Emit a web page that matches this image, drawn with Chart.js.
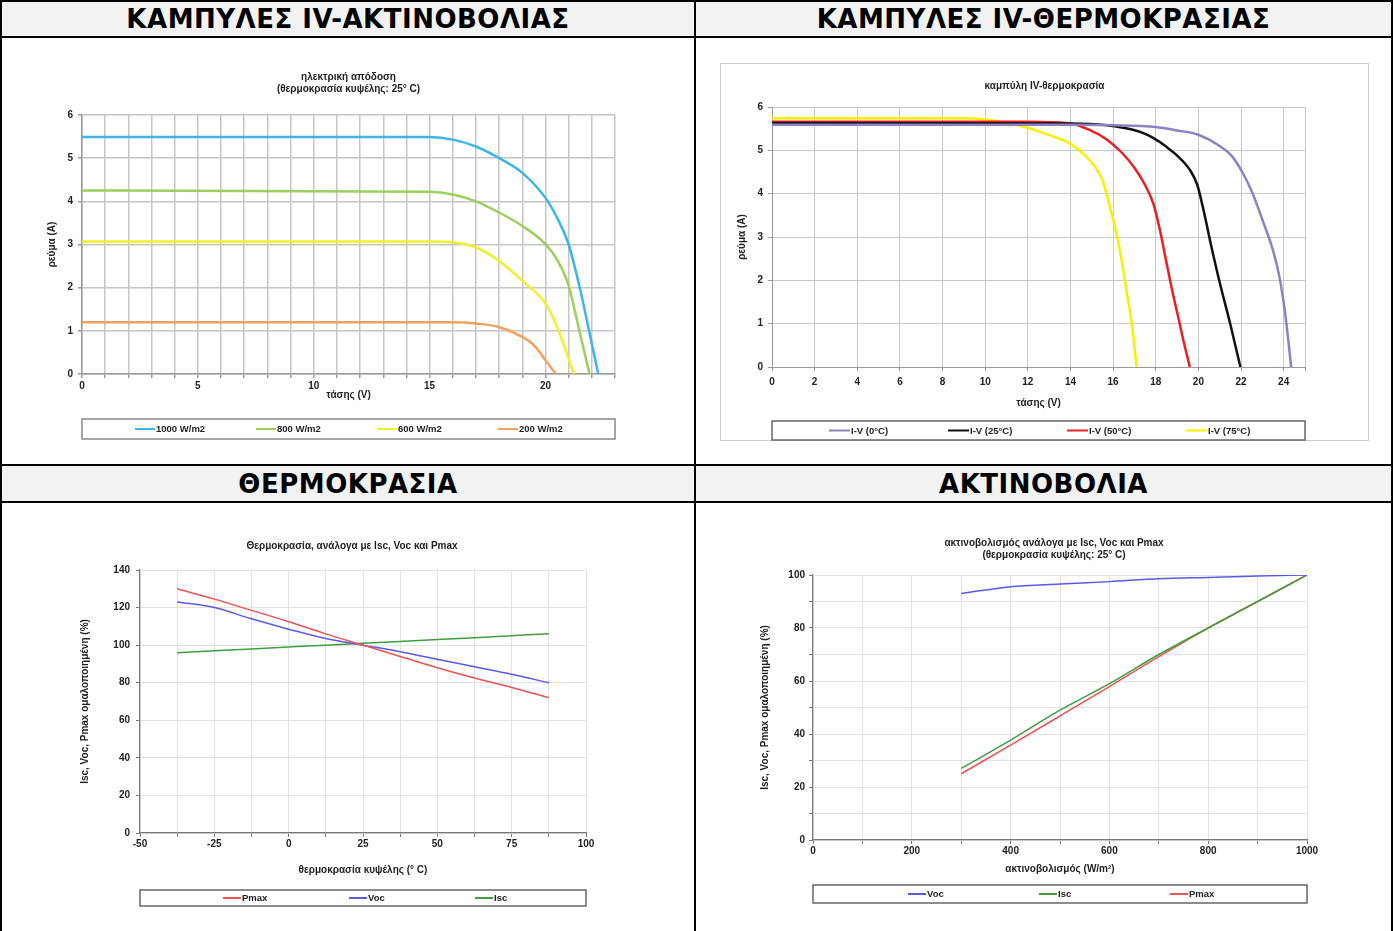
<!DOCTYPE html>
<html>
<head>
<meta charset="utf-8">
<script src="https://cdn.jsdelivr.net/npm/chart.js@4.4.1/dist/chart.umd.min.js"></script>
<style>
  html, body { margin: 0; padding: 0; background: #fff; width: 1393px; height: 931px; overflow: hidden; }
  .ln { position: absolute; background: #000; }
  .head { position: absolute; background: #f2f2f2; color: #000; text-align: center; letter-spacing: 0.5px;
          font: bold 26px "DejaVu Sans", Verdana, sans-serif; }
  .cell { position: absolute; }
  canvas { display: block; }
</style>
</head>
<body>

<!-- table grid -->
<div class="ln" style="left:0;top:0;width:1393px;height:2px"></div>
<div class="ln" style="left:0;top:36px;width:1393px;height:2px"></div>
<div class="ln" style="left:0;top:464px;width:1393px;height:2px"></div>
<div class="ln" style="left:0;top:501px;width:1393px;height:2px"></div>
<div class="ln" style="left:0;top:0;width:2px;height:931px"></div>
<div class="ln" style="left:694px;top:0;width:2px;height:931px"></div>
<div class="ln" style="left:1391px;top:0;width:2px;height:931px"></div>

<div class="head" style="left:2px;top:2px;width:692px;height:34px;line-height:35px">ΚΑΜΠΥΛΕΣ IV-ΑΚΤΙΝΟΒΟΛΙΑΣ</div>
<div class="head" style="left:696px;top:2px;width:695px;height:34px;line-height:35px">ΚΑΜΠΥΛΕΣ IV-ΘΕΡΜΟΚΡΑΣΙΑΣ</div>
<div class="head" style="left:2px;top:466px;width:692px;height:35px;line-height:36px">ΘΕΡΜΟΚΡΑΣΙΑ</div>
<div class="head" style="left:696px;top:466px;width:695px;height:35px;line-height:36px">ΑΚΤΙΝΟΒΟΛΙΑ</div>

<div class="cell" style="left:2px;top:38px"><canvas id="irr" width="692" height="426"></canvas></div>
<div class="cell" style="left:696px;top:38px"><canvas id="temp" width="695" height="426"></canvas></div>
<div class="cell" style="left:2px;top:503px"><canvas id="tnorm" width="692" height="428"></canvas></div>
<div class="cell" style="left:696px;top:503px"><canvas id="gnorm" width="695" height="428"></canvas></div>

<script>
// ---------- data: IV curves vs irradiance (cell temp 25 C) ----------
const v1000 = [0, 15, 16, 17, 18, 19, 20, 20.5, 21, 21.5, 21.9, 22.28];
const i1000 = [5.49, 5.49, 5.43, 5.27, 5.0, 4.66, 4.08, 3.62, 3.0, 1.95, 0.95, 0];
const v800 = [0, 15, 16, 17, 18, 19, 20, 20.5, 21, 21.4, 21.9];
const i800 = [4.25, 4.22, 4.16, 4.0, 3.74, 3.43, 3.01, 2.65, 2.05, 1.15, 0];
const v600 = [0, 15, 16, 17, 18, 19, 20, 20.5, 20.87, 21.23];
const i600 = [3.07, 3.07, 3.05, 2.93, 2.62, 2.16, 1.63, 1.09, 0.55, 0];
const v200 = [0, 15, 16, 17, 18, 19, 19.5, 20, 20.45];
const i200 = [1.2, 1.2, 1.2, 1.17, 1.09, 0.86, 0.67, 0.32, 0];

// ---------- data: IV curves vs temperature ----------
const v0C = [0, 14, 16, 18, 19, 20, 21, 21.6, 22.1, 22.55, 23, 23.5, 23.8, 24.05, 24.2, 24.35];
const i0C = [5.59, 5.59, 5.58, 5.54, 5.46, 5.36, 5.1, 4.85, 4.46, 4.0, 3.4, 2.69, 2.08, 1.31, 0.69, 0];
const v25C = [0, 14, 15.7, 16.6, 17.3, 17.9, 18.5, 19, 19.6, 19.95, 20.25, 20.6, 21, 21.5, 21.97];
const i25C = [5.63, 5.62, 5.58, 5.51, 5.42, 5.28, 5.08, 4.88, 4.55, 4.2, 3.6, 2.8, 1.95, 0.98, 0];
const v50C = [0, 12, 14, 14.9, 15.7, 16.4, 17.0, 17.5, 17.9, 18.2, 18.5, 18.8, 19.1, 19.35, 19.6];
const i50C = [5.66, 5.66, 5.62, 5.47, 5.25, 4.95, 4.6, 4.2, 3.75, 3.15, 2.42, 1.7, 1.05, 0.5, 0];
const v75C = [0, 9, 10, 11, 12, 12.6, 13.3, 14, 14.9, 15.5, 15.9, 16.1, 16.4, 16.65, 16.9, 17.1];
const i75C = [5.74, 5.74, 5.71, 5.63, 5.52, 5.42, 5.3, 5.15, 4.77, 4.31, 3.6, 3.2, 2.46, 1.69, 0.92, 0];

// ---------- data: normalised values vs cell temperature ----------
const cellTemp = [-37.5, -25, -12.5, 0, 12.5, 25, 37.5, 50, 62.5, 75, 87.5];
const pmaxT = [130, 124.5, 118.5, 112.5, 106, 100, 94, 88, 82.5, 77.5, 72];
const vocT = [123, 120, 114, 108.5, 103.5, 100, 96.5, 92.5, 88.5, 84.5, 80];
const iscT = [96, 97, 98, 99, 100, 101, 102, 103, 104, 105, 106];

// ---------- data: normalised values vs irradiance ----------
const irrad = [300, 400, 500, 600, 700, 800, 900, 1000];
const vocG = [93, 95.6, 96.6, 97.5, 98.6, 99.1, 99.6, 100];
const iscG = [27, 37.7, 49, 59, 70, 80, 90, 100];
const pmaxG = [25, 35.8, 46.8, 57.9, 69.2, 80, 90, 100];

const FONT = '"Liberation Sans", Arial, sans-serif';
Chart.defaults.font.family = FONT;
Chart.defaults.font.size = 10;
Chart.defaults.font.weight = 'bold';
Chart.defaults.color = '#222';

const pts = (xs, ys) => xs.map((x, i) => ({ x: x, y: ys[i] }));

function series(label, xs, ys, color, width) {
  return {
    label: label, data: pts(xs, ys), showLine: true, fill: false,
    borderColor: color, backgroundColor: color, borderWidth: width,
    pointRadius: 0, pointHoverRadius: 0, cubicInterpolationMode: 'monotone'
  };
}

// chart title, centred on the plot (with a small shift where the original is off-centre)
const caption = {
  id: 'caption',
  afterDraw(chart, args, o) {
    const { ctx, chartArea: a } = chart;
    ctx.save();
    ctx.font = 'bold 10px ' + FONT;
    ctx.fillStyle = '#222';
    ctx.textAlign = 'center';
    ctx.textBaseline = 'middle';
    const cx = (a.left + a.right) / 2 + o.dx;
    o.lines.forEach((t, i) => ctx.fillText(t, cx, o.y + i * 12));
    ctx.restore();
  }
};

// boxed legend under the plot, items on a fixed pitch (Excel style)
const legendBox = {
  id: 'legendBox',
  afterDraw(chart, args, o) {
    const { ctx, chartArea: a } = chart;
    ctx.save();
    ctx.strokeStyle = o.border;
    ctx.lineWidth = 1.5;
    ctx.strokeRect(a.left, o.top, a.right - a.left, o.height);
    ctx.font = 'bold 9.5px ' + FONT;
    ctx.textBaseline = 'middle';
    const cy = o.top + o.height / 2;
    chart.data.datasets.forEach((ds, i) => {
      const x = a.left + o.offset + i * o.pitch;
      ctx.strokeStyle = ds.borderColor;
      ctx.lineWidth = 2;
      ctx.beginPath();
      ctx.moveTo(x, cy);
      ctx.lineTo(x + o.lineLen, cy);
      ctx.stroke();
      ctx.fillStyle = '#222';
      ctx.fillText(ds.label, x + o.lineLen + 1, cy + 0.5);
    });
    ctx.restore();
  }
};

// light frame round the whole chart object (only the temperature IV chart has one)
const chartFrame = {
  id: 'chartFrame',
  beforeDraw(chart, args, o) {
    if (!o.show) return;
    const ctx = chart.ctx;
    ctx.save();
    ctx.strokeStyle = '#cfcfcf';
    ctx.lineWidth = 1;
    ctx.strokeRect(o.x + 0.5, o.y + 0.5, o.w, o.h);
    ctx.restore();
  }
};

function axis(o) {
  return {
    type: 'linear', min: o.min, max: o.max,
    afterFit: s => { if (s.isHorizontal()) s.height = o.size; else s.width = o.size; },
    ticks: {
      stepSize: o.step, maxTicksLimit: 200, autoSkip: false, maxRotation: 0, minRotation: 0,
      padding: o.pad, color: '#222', font: { size: 10, weight: 'bold' },
      callback: v => {
        const k = v / o.every;
        return (Math.abs(k - Math.round(k)) < 1e-6 && v <= o.lastLabel) ? String(v) : '';
      }
    },
    grid: { color: o.grid, lineWidth: o.gw, tickLength: 4, tickColor: o.axis, drawTicks: true },
    border: { color: o.axis, width: o.aw },
    title: {
      display: true, text: o.title, color: '#222',
      font: { size: 10, weight: 'bold', lineHeight: '12px' },
      padding: { top: o.tp, bottom: o.tb }
    }
  };
}

function build(id, datasets, cfg) {
  new Chart(document.getElementById(id), {
    type: 'scatter',
    data: { datasets: datasets },
    options: {
      responsive: false, animation: false, devicePixelRatio: 1,
      layout: { padding: cfg.pad },
      scales: { x: axis(cfg.x), y: axis(cfg.y) },
      plugins: {
        legend: { display: false },
        tooltip: { enabled: false },
        title: { display: false },
        caption: cfg.caption,
        legendBox: cfg.legend,
        chartFrame: cfg.frame || { show: false }
      }
    },
    plugins: [caption, legendBox, chartFrame]
  });
}

// --- IV vs irradiance ---
build('irr', [
  series('1000 W/m2', v1000, i1000, '#3cb6e6', 2.5),
  series('800 W/m2', v800, i800, '#9ccf5c', 2.5),
  series('600 W/m2', v600, i600, '#f2f02a', 2.5),
  series('200 W/m2', v200, i200, '#f3a25e', 2.5)
], {
  pad: { left: 40, right: 79, top: 77, bottom: 63 },
  caption: { lines: ['ηλεκτρική απόδοση', '(θερμοκρασία κυψέλης: 25° C)'], y: 39, dx: 0 },
  x: { min: 0, max: 23, step: 1, every: 5, lastLabel: 20, size: 27, pad: 2, grid: '#c6c6c6', gw: 1.5,
       axis: '#9a9a9a', aw: 1.5, title: 'τάσης (V)', tp: 0, tb: 0 },
  y: { min: 0, max: 6, step: 1, every: 1, lastLabel: 6, size: 40, pad: 5, grid: '#c6c6c6', gw: 1.5,
       axis: '#9a9a9a', aw: 1.5, title: 'ρεύμα (A)', tp: 4, tb: 0 },
  legend: { top: 381, height: 20, offset: 53, pitch: 121, lineLen: 20, border: '#888' }
});

// --- IV vs temperature ---
build('temp', [
  series('I-V (0°C)', v0C, i0C, '#8f80c2', 2.5),
  series('I-V (25°C)', v25C, i25C, '#111111', 2.5),
  series('I-V (50°C)', v50C, i50C, '#ea1f1f', 2.5),
  series('I-V (75°C)', v75C, i75C, '#f7f000', 2.5)
], {
  pad: { left: 40, right: 86, top: 69, bottom: 55 },
  caption: { lines: ['καμπύλη IV-θερμοκρασία'], y: 48, dx: 6 },
  x: { min: 0, max: 25, step: 2, every: 2, lastLabel: 24, size: 42, pad: 5, grid: '#c8c8c8', gw: 1,
       axis: '#9a9a9a', aw: 1, title: 'τάσης (V)', tp: 0, tb: 0 },
  y: { min: 0, max: 6, step: 1, every: 1, lastLabel: 6, size: 36, pad: 5, grid: '#c8c8c8', gw: 1,
       axis: '#9a9a9a', aw: 1, title: 'ρεύμα (A)', tp: 0, tb: 0 },
  legend: { top: 383, height: 19, offset: 57, pitch: 119, lineLen: 21, border: '#666' },
  frame: { show: true, x: 24, y: 25, w: 648, h: 377 }
});

// --- normalised vs temperature ---
build('tnorm', [
  series('Pmax', cellTemp, pmaxT, '#ee5252', 1.5),
  series('Voc', cellTemp, vocT, '#5a5ae8', 1.5),
  series('Isc', cellTemp, iscT, '#3f9f3f', 1.5)
], {
  pad: { left: 77, right: 108, top: 67, bottom: 55 },
  caption: { lines: ['Θερμοκρασία, ανάλογα με Isc, Voc και Pmax'], y: 43, dx: -11 },
  x: { min: -50, max: 100, step: 12.5, every: 25, lastLabel: 100, size: 43, pad: 1, grid: '#e2e2e2', gw: 1,
       axis: '#777', aw: 1.2, title: 'θερμοκρασία κυψέλης (° C)', tp: 0, tb: 0 },
  y: { min: 0, max: 140, step: 20, every: 20, lastLabel: 140, size: 61, pad: 6, grid: '#e2e2e2', gw: 1,
       axis: '#777', aw: 1.2, title: 'Isc, Voc, Pmax ομαλοποιημένη (%)', tp: 0, tb: 0 },
  legend: { top: 387, height: 16, offset: 83, pitch: 126, lineLen: 18, border: '#666' }
});

// --- normalised vs irradiance ---
build('gnorm', [
  series('Voc', irrad, vocG, '#5a5ae8', 1.5),
  series('Isc', irrad, iscG, '#3f9f3f', 1.5),
  series('Pmax', irrad, pmaxG, '#ee5252', 1.5)
], {
  pad: { left: 63, right: 84, top: 72, bottom: 56 },
  caption: { lines: ['ακτινοβολισμός ανάλογα με Isc, Voc και Pmax', '(θερμοκρασία κυψέλης: 25° C)'], y: 40, dx: -6 },
  x: { min: 0, max: 1000, step: 100, every: 200, lastLabel: 1000, size: 35, pad: 1, grid: '#e2e2e2', gw: 1,
       axis: '#777', aw: 1.2, title: 'ακτινοβολισμός (W/m²)', tp: 0, tb: 0 },
  y: { min: 0, max: 100, step: 10, every: 20, lastLabel: 100, size: 54, pad: 4, grid: '#e2e2e2', gw: 1,
       axis: '#777', aw: 1.2, title: 'Isc, Voc, Pmax ομαλοποιημένη (%)', tp: 0, tb: 0 },
  legend: { top: 382, height: 18, offset: 95, pitch: 131, lineLen: 18, border: '#666' }
});
</script>
</body>
</html>
